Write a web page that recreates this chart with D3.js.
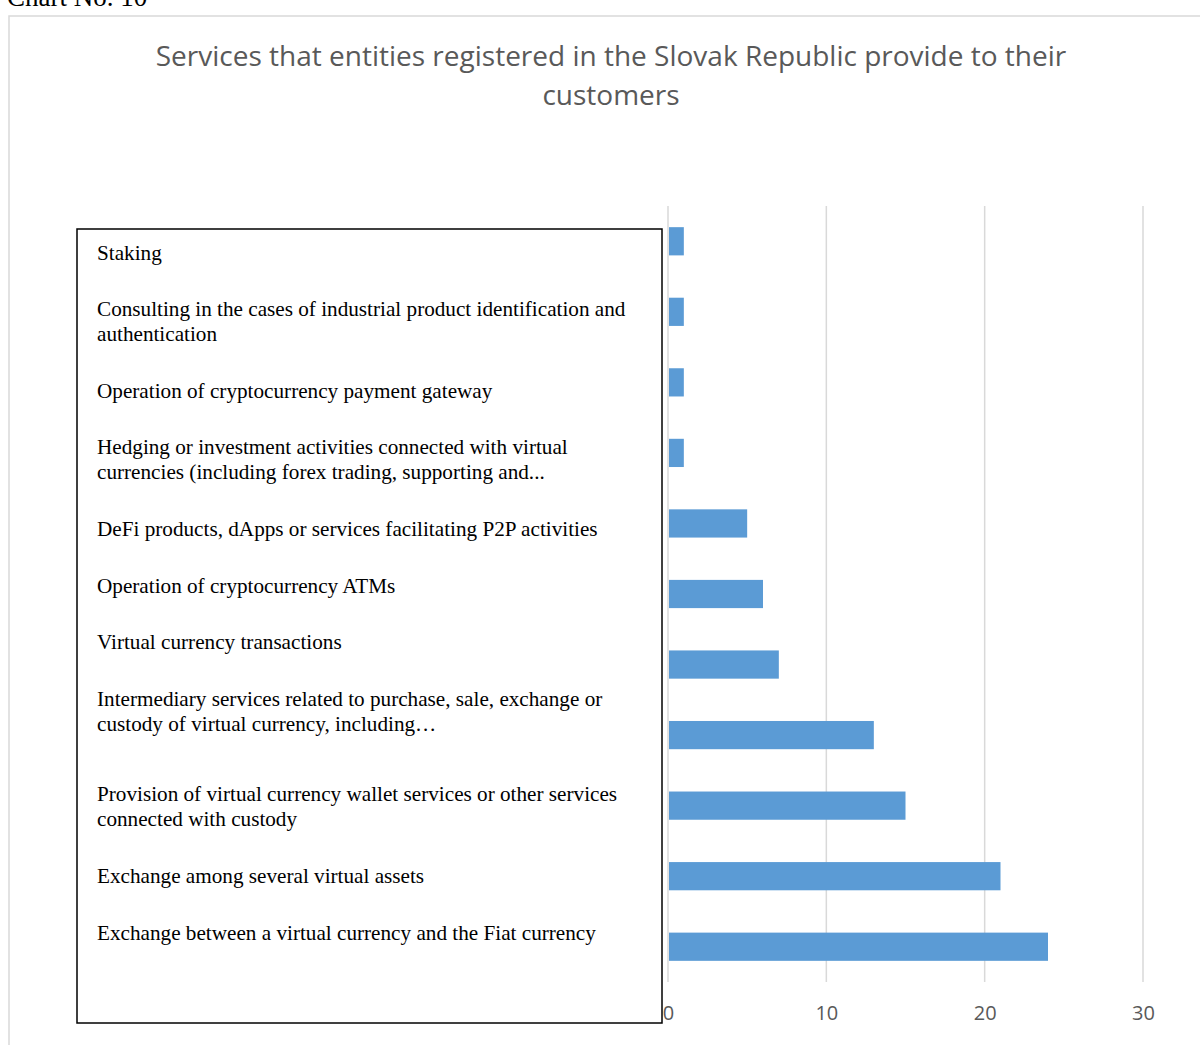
<!DOCTYPE html>
<html>
<head>
<meta charset="utf-8">
<script src="https://cdn.jsdelivr.net/npm/d3@7"></script>
<style>
  html, body { margin: 0; padding: 0; background: #fff; }
  svg { display: block; }
</style>
</head>
<body>
<svg id="chart" width="1200" height="1045"></svg>
<script>
// Service categories, top to bottom, with their label lines as wrapped in the text box
const categories = [
  "Staking",
  "Consulting in the cases of industrial product identification and authentication",
  "Operation of cryptocurrency payment gateway",
  "Hedging or investment activities connected with virtual currencies (including forex trading, supporting and...",
  "DeFi products, dApps or services facilitating P2P activities",
  "Operation of cryptocurrency ATMs",
  "Virtual currency transactions",
  "Intermediary services related to purchase, sale, exchange or custody of virtual currency, including…",
  "Provision of virtual currency wallet services or other services connected with custody",
  "Exchange among several virtual assets",
  "Exchange between a virtual currency and the Fiat currency"
];
const labelLines = [
  ["Staking"],
  ["Consulting in the cases of industrial product identification and", "authentication"],
  ["Operation of cryptocurrency payment gateway"],
  ["Hedging or investment activities connected with virtual", "currencies (including forex trading, supporting and..."],
  ["DeFi products, dApps or services facilitating P2P activities"],
  ["Operation of cryptocurrency ATMs"],
  ["Virtual currency transactions"],
  ["Intermediary services related to purchase, sale, exchange or", "custody of virtual currency, including…"],
  ["Provision of virtual currency wallet services or other services", "connected with custody"],
  ["Exchange among several virtual assets"],
  ["Exchange between a virtual currency and the Fiat currency"]
];
// Number of entities providing each service
const counts = [1, 1, 1, 1, 5, 6, 7, 13, 15, 21, 24];
const xTicks = [0, 10, 20, 30];
const titleLines = ["Services that entities registered in the Slovak Republic provide to their", "customers"];

const svg = d3.select("#chart");
const sansFont = "'Open Sans', 'Noto Sans', sans-serif";
const serifFont = "'Liberation Serif', 'Times New Roman', serif";

// Caption above the chart frame
svg.append("text")
  .attr("x", 7).attr("y", 6)
  .attr("font-family", serifFont).attr("font-size", 27)
  .attr("fill", "#000")
  .text("Chart No. 10");

// Chart frame
svg.append("rect")
  .attr("x", 9).attr("y", 16)
  .attr("width", 1200).attr("height", 1100)
  .attr("fill", "#fff")
  .attr("stroke", "#d9d9d9").attr("stroke-width", 1.5);

// Title, fitted to its line width
const title = svg.append("text")
  .attr("font-family", sansFont).attr("fill", "#595959")
  .attr("text-anchor", "middle");
titleLines.forEach((t, i) => {
  title.append("tspan").attr("x", 611).attr("y", 66 + i * 39).text(t);
});
title.attr("font-size", 26);
const w0 = title.select("tspan").node().getComputedTextLength();
title.attr("font-size", 26 * 911 / w0);

// Scales
const x = d3.scaleLinear().domain([0, 30]).range([668, 1143]);
const y = d3.scaleBand().domain(categories).range([206, 982])
  .paddingInner(0.6).paddingOuter(0.3);

// Vertical gridlines
svg.append("g").selectAll("line").data(xTicks).join("line")
  .attr("x1", d => x(d)).attr("x2", d => x(d))
  .attr("y1", 206).attr("y2", 982)
  .attr("stroke", "#d9d9d9").attr("stroke-width", 1.5);

// Bars
svg.append("g").selectAll("rect").data(categories).join("rect")
  .attr("x", x(0) + 1)
  .attr("y", d => y(d))
  .attr("width", (d, i) => x(counts[i]) - x(0) - 1)
  .attr("height", y.bandwidth())
  .attr("fill", "#5b9bd5");

// Category text box
svg.append("rect")
  .attr("x", 77).attr("y", 229)
  .attr("width", 585).attr("height", 794)
  .attr("fill", "#fff")
  .attr("stroke", "#000").attr("stroke-width", 1.5);

const lineH = 24.5, paraGap = 32.3;
let baseY = 259.5;
const labelG = svg.append("g")
  .attr("font-family", serifFont).attr("font-size", 21.2).attr("fill", "#000");
labelLines.forEach((lines, i) => {
  if (i === 8) baseY += 14; // extra spacing before the wallet services entry
  lines.forEach((ln, j) => {
    labelG.append("text").attr("x", 97).attr("y", baseY + j * lineH).text(ln);
  });
  baseY += (lines.length - 1) * lineH + lineH + paraGap;
});

// X axis tick labels
const axis = d3.axisBottom(x).tickValues(xTicks).tickSize(0).tickPadding(0);
const ax = svg.append("g").attr("transform", "translate(0,1004)").call(axis);
ax.select(".domain").remove();
ax.selectAll("text")
  .attr("font-family", sansFont).attr("font-size", 20)
  .attr("fill", "#595959").attr("dy", "0.8em");
</script>
</body>
</html>
